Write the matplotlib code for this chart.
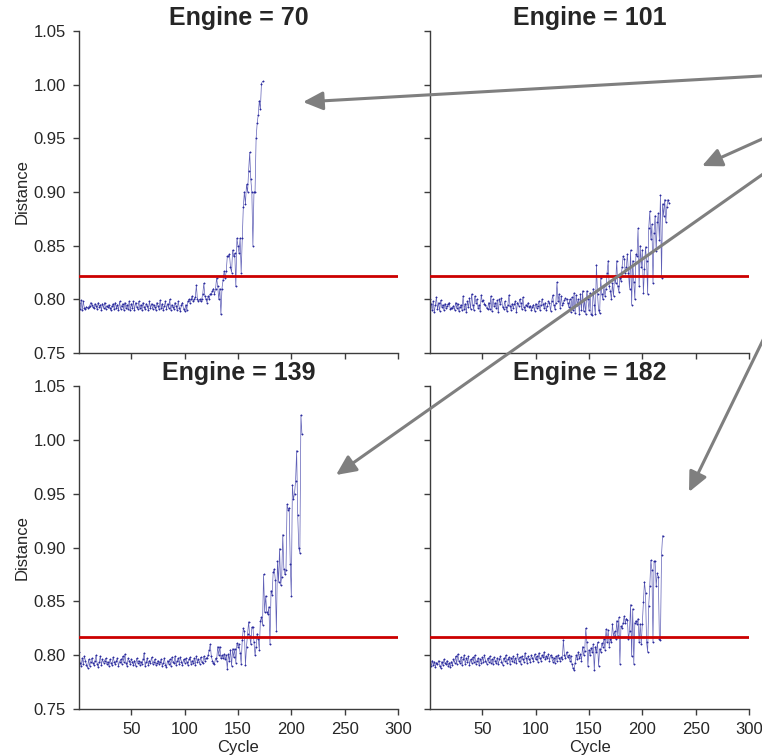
import numpy as np
import matplotlib
matplotlib.use("Agg")
import matplotlib.pyplot as plt
from matplotlib.patches import FancyArrowPatch

plt.rcParams['font.family'] = ['Liberation Sans', 'DejaVu Sans']

engines = [70, 101, 139, 182]
thresholds = [0.822, 0.822, 0.817, 0.817]

# distance values in thousandths, one per cycle starting at cycle 1
dist_70 = [
    797, 791, 799, 790, 798, 792, 791, 793, 792, 793, 794, 797, 795, 793, 792, 796, 794, 791, 797, 793,
    795, 790, 796, 792, 797, 791, 794, 793, 795, 792, 790, 794, 796, 791, 797, 792, 795, 790, 798, 791,
    794, 796, 790, 797, 792, 795, 791, 798, 790, 796, 792, 798, 790, 797, 793, 791, 798, 792, 795, 790,
    797, 793, 791, 796, 794, 790, 798, 792, 796, 791, 795, 793, 790, 797, 794, 791, 799, 792, 796, 790,
    794, 798, 791, 796, 792, 800, 790, 795, 793, 791, 797, 794, 790, 798, 792, 789, 795, 797, 791,
    789, 795, 790, 798, 800, 797, 800, 803, 798, 800, 802, 813, 800, 798, 800, 798, 800, 805, 815, 803,
    800, 797, 803, 800, 805, 805, 808, 810, 805, 810, 820, 812, 800, 810, 786,
    810, 818, 826, 820, 826, 840, 840, 842, 830, 825, 846, 840, 843, 812, 857, 850, 843, 857, 825, 857,
    886, 900, 889, 907, 900, 920, 937, 912, 900, 850, 900, 900, 950, 964, 972, 985, 977, 1001, 1003,
]

dist_101 = [
    800, 796, 790, 798, 788, 795, 802, 791, 797, 789, 799, 793, 795, 790, 796, 792, 794, 796, 797, 791,
    792, 792, 794, 790, 797, 792, 796, 789, 793, 795, 790, 803, 791, 796, 788, 798, 793, 801, 791, 805,
    795, 790, 803, 797, 800, 792, 795, 789, 804, 798, 799, 796, 795, 792, 791, 797, 791, 803, 789, 800,
    794, 797, 792, 799, 788, 800, 796, 801, 793, 791, 798, 793, 789, 795, 804, 794, 790, 796, 792, 796,
    798, 788, 797, 794, 800, 797, 791, 802, 793, 790, 795, 794, 797, 793, 794, 790, 793, 795, 789, 796,
    792, 794, 798, 790, 795, 800, 796, 792, 797, 790, 794, 798, 797, 789, 798, 804, 795, 791, 797, 816,
    798, 805, 792, 803, 795, 797, 799, 801, 800, 797, 793, 800, 788, 802, 790, 806, 787, 804, 795, 800,
    786, 805, 790, 808, 789, 800, 786, 808, 800, 790, 806, 786, 785, 810, 795, 786,
    832, 805, 790, 787, 820, 805, 800, 812, 803, 810, 825, 836, 812, 808, 800, 815, 803, 822, 815, 836,
    812, 807, 820, 817, 830, 840, 838, 825, 830, 842, 825, 810, 846, 795, 836, 816, 800, 842,
    840, 866, 812, 850, 830, 846, 806, 828, 849, 836, 805, 866, 882, 856, 870, 815, 862, 878, 845, 872,
    880, 855, 897, 820, 889, 878, 893, 872, 886, 893, 890,
]

dist_139 = [
    803, 793, 790, 797, 792, 799, 795, 791, 788, 796, 790, 794, 797, 793, 791, 795, 800, 792, 789, 794,
    799, 791, 796, 793, 795, 797, 792, 794, 790, 796, 793, 791, 798, 794, 792, 795, 797, 790, 794, 796,
    792, 799, 794, 801, 793, 790, 797, 795, 792, 796, 794, 791, 795, 790, 797, 793, 795, 791, 794, 792,
    796, 802, 790, 794, 797, 791, 795, 793, 798, 792, 794, 796, 791, 793, 795, 792, 794, 796, 790, 793,
    797, 791, 789, 795, 792, 796, 790, 798, 794, 793, 799, 791, 795, 797, 792, 798, 794, 791, 796, 793,
    797, 794, 791, 796, 798, 792, 795, 793, 797, 791, 799, 794, 796, 792, 798, 794, 793, 799, 795, 797,
    797, 800, 805, 810, 799, 795, 793, 792, 797, 795, 808, 800, 808, 797, 800, 797, 801, 796, 800, 787,
    801, 795, 805, 790, 806, 798, 806, 793, 811, 808, 810, 802, 792, 814,
    825, 822, 791, 808, 820, 831, 818, 810, 826, 826, 812, 800, 808, 820, 815, 805, 832, 835, 828, 875,
    840, 855, 840, 838, 845, 810, 860, 856, 877, 880, 870, 822, 887, 868, 899, 865, 873, 912, 880, 875,
    879, 940, 935, 937, 885, 855, 958, 945, 950, 962, 990, 930, 900, 895, 1023, 1005,
]

dist_182 = [
    792, 790, 795, 791, 794, 789, 793, 792, 795, 790, 788, 794, 791, 796, 793, 792, 795, 790, 793, 789,
    794, 791, 796, 793, 799, 792, 801, 795, 793, 798, 791, 796, 800, 792, 797, 794, 799, 791, 796, 793,
    798, 794, 800, 792, 795, 797, 791, 796, 793, 798, 794, 800, 795, 792, 797, 794, 799, 793, 796, 792,
    798, 795, 793, 797, 792, 796, 799, 794, 791, 797, 795, 800, 793, 796, 798, 792, 797, 795, 799, 794,
    797, 793, 801, 795, 798, 792, 799, 796, 794, 802, 797, 793, 799, 796, 794, 800, 797, 795, 801, 796,
    799, 794, 802, 797, 795, 800, 798, 803, 796, 799, 797, 801, 795, 800, 798, 794, 797, 793, 799, 795,
    800, 797, 795, 798, 796, 814, 800, 797, 803, 798, 800, 795, 799, 792, 788, 786, 793, 800, 796, 803,
    797, 801, 795, 808, 800, 804, 825, 812, 790, 805, 800, 807, 803, 810, 786,
    808, 803, 812, 790, 806, 803, 811, 808, 815, 805, 824, 812, 823, 808, 815, 812, 829, 818, 822, 815,
    832, 818, 835, 792, 827, 825, 830, 836, 830, 834, 833, 815, 822, 847, 799, 843, 792, 830, 832, 829,
    834, 812, 829, 810,
    829, 849, 868, 858, 812, 803, 846, 864, 888, 879, 812, 887, 887, 864, 876, 873, 815, 814, 893, 911,
]

series = [dist_70, dist_101, dist_139, dist_182]
x_ticks = [50, 100, 150, 200, 250, 300]
y_ticks = [0.75, 0.80, 0.85, 0.90, 0.95, 1.00, 1.05]

W, H = 762, 756
fig = plt.figure(figsize=(W / 100, H / 100), dpi=100)

# axes boxes in pixels: (left, top, right, bottom) measured from top-left
boxes = [(79, 31, 398, 353), (430, 31, 749, 353),
         (79, 386, 398, 709), (430, 386, 749, 709)]

text_c = '#262626'
spine_c = '#3c3c3c'
line_c = '#2a2a9e'

for i, (eng, thr, vals, (l, t, r, b)) in enumerate(zip(engines, thresholds, series, boxes)):
    ax = fig.add_axes([l / W, 1 - b / H, (r - l) / W, (b - t) / H])
    y = np.array(vals) / 1000.0
    x = np.arange(1, len(y) + 1)
    ax.plot(x, y, color=line_c, lw=0.5, alpha=0.75, zorder=2)
    ax.plot(x, y, ls='none', marker='o', markersize=1.0,
            markerfacecolor=line_c, markeredgecolor=line_c, markeredgewidth=0.3, zorder=2)
    ax.axhline(thr, color='#cc0000', lw=2.0, zorder=3)
    ax.set_xlim(1, 300)
    ax.set_ylim(0.75, 1.05)
    ax.set_xticks(x_ticks)
    ax.set_yticks(y_ticks)
    for s in ['top', 'right']:
        ax.spines[s].set_visible(False)
    for s in ['left', 'bottom']:
        ax.spines[s].set_color(spine_c)
        ax.spines[s].set_linewidth(1.0)
    ax.tick_params(axis='both', direction='out', length=4.5, width=1.0, color=spine_c,
                   labelsize=12, labelcolor=text_c, pad=5)
    ax.set_title(f"Engine = {eng}", fontsize=18, fontweight='bold', color=text_c, pad=4)
    if i % 2 == 0:
        ax.set_yticklabels([f"{v:.2f}" for v in y_ticks])
        ax.set_ylabel("Distance", fontsize=12, color=text_c, labelpad=3)
    else:
        ax.set_yticklabels([])
    if i >= 2:
        ax.set_xticklabels([str(v) for v in x_ticks])
        ax.set_xlabel("Cycle", fontsize=12, color=text_c, labelpad=2)
    else:
        ax.set_xticklabels([])

# annotation arrows coming from outside the right edge (pixel coordinates, top-left origin)
arrows = [((800, 73.8), (303, 102)),
          ((800, 122), (702, 166)),
          ((800, 148), (336, 475)),
          ((800, 264), (689, 492))]
for (x0, y0), (x1, y1) in arrows:
    arr = FancyArrowPatch((x0 / W, 1 - y0 / H), (x1 / W, 1 - y1 / H),
                          transform=fig.transFigure,
                          arrowstyle='-|>,head_length=0.6,head_width=0.28',
                          mutation_scale=20, color='#7f7f7f', lw=2.2,
                          shrinkA=0, shrinkB=0, zorder=10)
    fig.add_artist(arr)

fig.savefig("out.png", dpi=100)
